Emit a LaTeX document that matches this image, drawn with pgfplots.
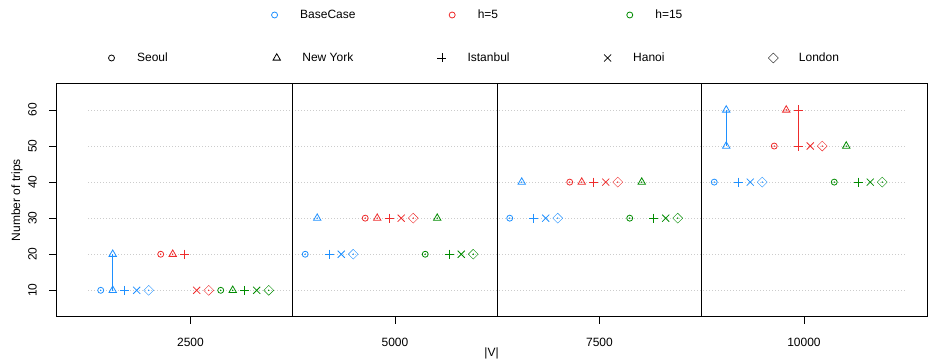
\documentclass[border=0pt]{standalone}
\usepackage{pgfplots}
\pgfplotsset{compat=1.18}
\usepackage{fontspec}
\setmainfont{Liberation Sans}
\definecolor{cblue}{RGB}{30,144,255}
\definecolor{cred}{RGB}{238,44,44}
\definecolor{cgreen}{RGB}{0,139,0}
\pgfplotsset{
  mbase/.style={only marks, mark options={line width=0.8bp, solid}},
  mo/.style={mbase, mark=o, mark size=3bp},
  mt/.style={mbase, mark=triangle, mark size=4.3bp},
  mp/.style={mbase, mark=+, mark size=4.5bp},
  mx/.style={mbase, mark=x, mark size=5bp},
  md/.style={mbase, mark=square, mark size=3.5bp, mark options={rotate=45}},
  mdot/.style={only marks, mark=*, mark size=0.5bp},
  grid line/.style={gray!40, line width=0.7bp, dash pattern=on 0.8bp off 2.2bp},
}
\begin{document}
\begin{tikzpicture}
\fontsize{12bp}{14bp}\selectfont
\path[use as bounding box] (-56bp,-46.3bp) rectangle (872bp,316.7bp);
\begin{axis}[at={(0,0)}, anchor=south west, scale only axis,
  width=871bp, height=233.4bp,
  xmin=856.4, xmax=11504, ymin=2.68, ymax=67.4,
  xtick={2500,5000,7500,10000}, ytick={10,20,30,40,50,60},
  scaled x ticks=false, scaled y ticks=false,
  tick align=outside, tick pos=left, major tick length=7bp,
  every tick/.style={black, line width=0.8bp},
  /pgf/number format/1000 sep={}, /pgf/number format/assume math mode=true,
  ticklabel style={font=\fontsize{12bp}{14bp}\selectfont},
  yticklabel style={rotate=90, anchor=south, inner sep=0pt},
  xticklabel style={anchor=north, inner sep=0pt},
  yticklabel shift=12bp, xticklabel shift=14bp,
  xlabel={|V|}, ylabel={Number of trips},
  label style={font=\fontsize{12bp}{14bp}\selectfont},
  xlabel style={at={(axis description cs:0.5,-0.1555)}, anchor=center},
  ylabel style={at={(axis description cs:-0.0448,0.5)}, anchor=center},
  axis line style={line width=0.8bp},
  legend columns=5, legend cell align=left,
  legend style={draw=none, fill=none, inner sep=0pt, outer sep=0pt,
    at={(0.0603,1.1084)}, anchor=west, nodes={inner sep=0pt},
    /tikz/column 1/.style={column sep=22.6bp},
    /tikz/column 3/.style={column sep=21.9bp},
    /tikz/column 5/.style={column sep=21.1bp},
    /tikz/column 7/.style={column sep=22.05bp},
    /tikz/column 9/.style={column sep=20.65bp}},
]
\addlegendimage{mo, black}\addlegendentry{\makebox[135.9bp][l]{Seoul}}
\addlegendimage{mt, black}\addlegendentry{\makebox[135.1bp][l]{New York}}
\addlegendimage{mp, black}\addlegendentry{\makebox[136.5bp][l]{Istanbul}}
\addlegendimage{mx, black}\addlegendentry{\makebox[135.2bp][l]{Hanoi}}
\addlegendimage{md, black}\addlegendentry{\makebox[100bp][l]{London}}

% grid lines
\addplot[grid line, forget plot] coordinates {(1250,10)(11240,10)};
\addplot[grid line, forget plot] coordinates {(1250,20)(11240,20)};
\addplot[grid line, forget plot] coordinates {(1250,30)(11240,30)};
\addplot[grid line, forget plot] coordinates {(1250,40)(11240,40)};
\addplot[grid line, forget plot] coordinates {(1250,50)(11240,50)};
\addplot[grid line, forget plot] coordinates {(1250,60)(11240,60)};
% separators
\addplot[black, line width=0.8bp, forget plot] coordinates {(3750,2.68)(3750,67.4)};
\addplot[black, line width=0.8bp, forget plot] coordinates {(6250,2.68)(6250,67.4)};
\addplot[black, line width=0.8bp, forget plot] coordinates {(8750,2.68)(8750,67.4)};
% ranges
\addplot[cblue, line width=0.8bp, forget plot] coordinates {(1549.7,10)(1549.7,20)};
\addplot[cblue, line width=0.8bp, forget plot] coordinates {(9049.7,50)(9049.7,60)};
\addplot[cred, line width=0.8bp, forget plot] coordinates {(9929.9,50)(9929.9,60)};

% BaseCase
\addplot[mo, cblue, forget plot] coordinates {(1403,10)(3903,20)(6403,30)(8903,40)};
\addplot[mt, cblue, forget plot] coordinates {(1549.7,10)(1549.7,20)(4049.7,30)(6549.7,40)(9049.7,50)(9049.7,60)};
\addplot[mp, cblue, forget plot] coordinates {(1696.4,10)(4196.4,20)(6696.4,30)(9196.4,40)};
\addplot[mx, cblue, forget plot] coordinates {(1843.1,10)(4343.1,20)(6843.1,30)(9343.1,40)};
\addplot[md, cblue, forget plot] coordinates {(1989.8,10)(4489.8,20)(6989.8,30)(9489.8,40)};
% h=5
\addplot[mo, cred, forget plot] coordinates {(2136.5,20)(4636.5,30)(7136.5,40)(9636.5,50)};
\addplot[mt, cred, forget plot] coordinates {(2283.2,20)(4783.2,30)(7283.2,40)(9783.2,60)};
\addplot[mp, cred, forget plot] coordinates {(2429.9,20)(4929.9,30)(7429.9,40)(9929.9,50)(9929.9,60)};
\addplot[mx, cred, forget plot] coordinates {(2576.6,10)(5076.6,30)(7576.6,40)(10076.6,50)};
\addplot[md, cred, forget plot] coordinates {(2723.3,10)(5223.3,30)(7723.3,40)(10223.3,50)};
% h=15
\addplot[mo, cgreen, forget plot] coordinates {(2870,10)(5370,20)(7870,30)(10370,40)};
\addplot[mt, cgreen, forget plot] coordinates {(3016.7,10)(5516.7,30)(8016.7,40)(10516.7,50)};
\addplot[mp, cgreen, forget plot] coordinates {(3163.4,10)(5663.4,20)(8163.4,30)(10663.4,40)};
\addplot[mx, cgreen, forget plot] coordinates {(3310.1,10)(5810.1,20)(8310.1,30)(10810.1,40)};
\addplot[md, cgreen, forget plot] coordinates {(3456.8,10)(5956.8,20)(8456.8,30)(10956.8,40)};
% centre dots
\addplot[mdot, cblue, forget plot] coordinates {(1403,10)(3903,20)(6403,30)(8903,40)(1549.7,10)(4049.7,30)(6549.7,40)(1989.8,10)(4489.8,20)(6989.8,30)(9489.8,40)};
\addplot[mdot, cred, forget plot] coordinates {(2136.5,20)(4636.5,30)(7136.5,40)(9636.5,50)(2283.2,20)(4783.2,30)(7283.2,40)(9783.2,60)(2723.3,10)(5223.3,30)(7723.3,40)(10223.3,50)};
\addplot[mdot, cgreen, forget plot] coordinates {(2870,10)(5370,20)(7870,30)(10370,40)(3016.7,10)(5516.7,30)(8016.7,40)(10516.7,50)(3456.8,10)(5956.8,20)(8456.8,30)(10956.8,40)};
\end{axis}
\begin{axis}[at={(0,0)}, anchor=south west, scale only axis,
  width=871bp, height=233.4bp, hide axis,
  xmin=856.4, xmax=11504, ymin=2.68, ymax=67.4,
  legend columns=3, legend cell align=left,
  legend style={draw=none, fill=none, inner sep=0pt, outer sep=0pt,
    at={(0.2475,1.2926)}, anchor=west, nodes={inner sep=0pt},
    font=\fontsize{12bp}{14bp}\selectfont,
    /tikz/every odd column/.append style={column sep=22.6bp}},
]
\addlegendimage{mo, cblue}\addlegendentry{\makebox[149bp][l]{BaseCase}}
\addlegendimage{mo, cred}\addlegendentry{\makebox[149bp][l]{h=5}}
\addlegendimage{mo, cgreen}\addlegendentry{\makebox[100bp][l]{h=15}}
\end{axis}
\end{tikzpicture}
\end{document}
